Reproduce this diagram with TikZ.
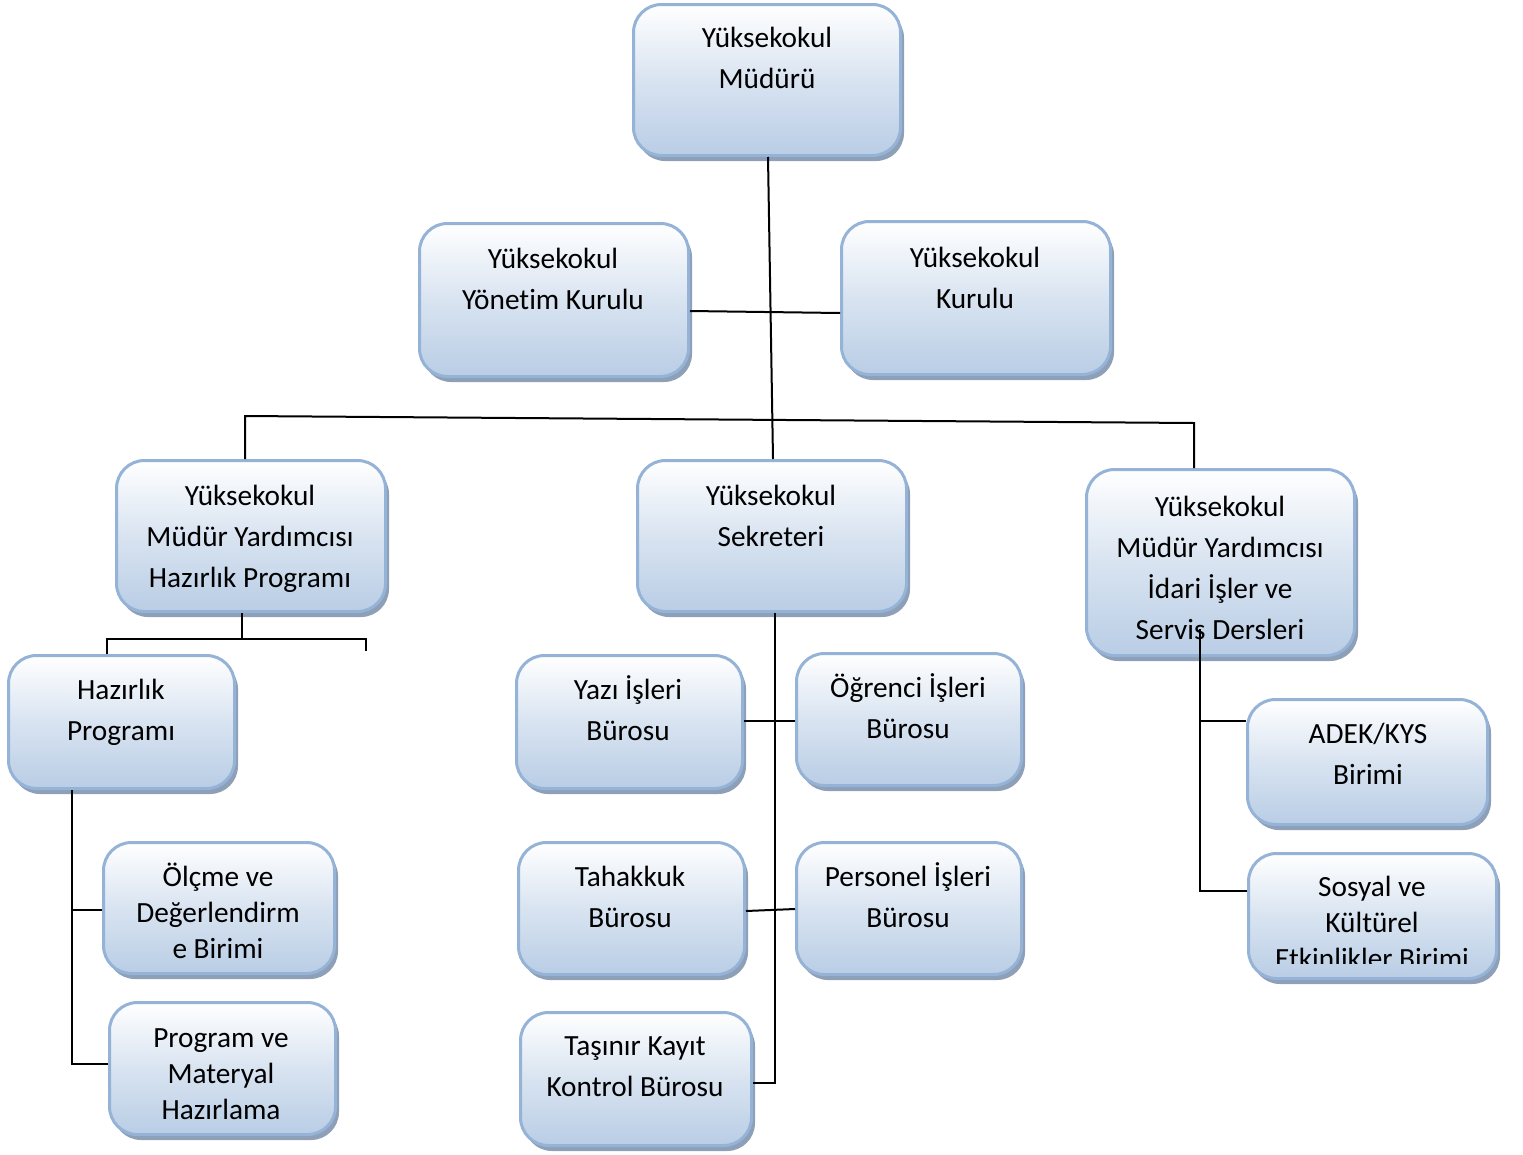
\documentclass[tikz,border=0pt]{standalone}
\usepackage{fontspec}
\setmainfont{Carlito}[Ligatures=NoCommon]
\usetikzlibrary{shadows}
\definecolor{boxborder}{HTML}{95B3D7}
\definecolor{boxbot}{HTML}{B9CDE5}
\definecolor{shadowcol}{HTML}{8E9FB8}
\newcommand\lstr{\rule[-11pt]{0pt}{41pt}}
\newcommand\sstr{\rule[-9pt]{0pt}{36pt}}
\newcommand\orgbox[5]{\node[orgbox, minimum width={#4-#2-3}, minimum height={#5-#3-3}] (#1) at ({(#2+#4)/2},{(#3+#5)/2}) {};}
\tikzset{
  orgbox/.style={draw=boxborder, line width=3pt, rounded corners=28pt,
    top color=white, bottom color=boxbot, middle color=boxbot!55!white,
    drop shadow={shadow xshift=3.5pt, shadow yshift=-5.5pt, fill=shadowcol, opacity=1},
    inner sep=0pt},
  orgtxt/.style={inner sep=0pt, align=center, anchor=north, font=\fontsize{29.3}{41}\selectfont},
  orgtxts/.style={orgtxt, font=\fontsize{29.3}{36}\selectfont},
  conn/.style={draw=black, line width=2pt}
}
\begin{document}
\begin{tikzpicture}[x=1pt,y=-1pt]
\useasboundingbox (0,0) rectangle (1523,1154);
% boxes
\orgbox{mud}{632}{3}{902}{157}
\orgbox{yon}{418}{222}{690}{378}
\orgbox{kur}{840}{220}{1112}{376}
\orgbox{hzy}{115}{459}{387}{613}
\orgbox{sek}{636}{459}{908}{613}
\orgbox{idr}{1085}{468}{1356}{657}
\orgbox{hzp}{7}{654}{236}{790}
\orgbox{olc}{102}{841}{336}{975}
\orgbox{prg}{108}{1001}{337}{1136}
\orgbox{yaz}{515}{654}{744}{790}
\orgbox{ogr}{795}{652}{1023}{787}
\orgbox{tah}{517}{841}{746}{976}
\orgbox{per}{795}{841}{1023}{976}
\orgbox{tas}{519}{1011}{753}{1147}
\orgbox{adk}{1246}{698}{1489}{826}
\orgbox{sos}{1247}{852}{1498}{980}
% texts
\node[orgtxt] (tmud) at (767,17) {\lstr Yüksekokul\\\lstr Müdürü};
\node[orgtxt] (tyon) at (553,238) {\lstr Yüksekokul\\\lstr Yönetim Kurulu};
\node[orgtxt] (tkur) at (975,237) {\lstr Yüksekokul\\\lstr Kurulu};
\node[orgtxt] (thzy) at (250,475) {\lstr Yüksekokul\\\lstr Müdür Yardımcısı\\\lstr Hazırlık Programı};
\node[orgtxt] (tsek) at (771,475) {\lstr Yüksekokul\\\lstr Sekreteri};
\node[orgtxt] (tidr) at (1220,486) {\lstr Yüksekokul\\\lstr Müdür Yardımcısı\\\lstr İdari İşler ve\\\lstr Servis Dersleri};
\node[orgtxt] (thzp) at (121,669) {\lstr Hazırlık\\\lstr Programı};
\node[orgtxts] (tolc) at (218,859) {\sstr Ölçme ve\\\sstr Değerlendirm\\\sstr e Birimi};
\node[orgtxts] (tprg) at (221,1020) {\sstr Program ve\\\sstr Materyal\\\sstr Hazırlama};
\node[orgtxt] (tyaz) at (628,669) {\lstr Yazı İşleri\\\lstr Bürosu};
\node[orgtxt] (togr) at (908,667) {\lstr Öğrenci İşleri\\\lstr Bürosu};
\node[orgtxt] (ttah) at (630,856) {\lstr Tahakkuk\\\lstr Bürosu};
\node[orgtxt] (tper) at (908,856) {\lstr Personel İşleri\\\lstr Bürosu};
\node[orgtxt] (ttas) at (635,1025) {\lstr Taşınır Kayıt\\\lstr Kontrol Bürosu};
\node[orgtxt] (tadk) at (1368,713) {\lstr ADEK/KYS\\\lstr Birimi};
\begin{scope}
\clip (1240,850) rectangle (1505,963);
\node[orgtxts] (tsos) at (1372,869) {\sstr Sosyal ve\\\sstr Kültürel\\\sstr Etkinlikler Birimi};
\end{scope}
% connectors
\coordinate (barR) at (1194,423);
\coordinate (hzyend) at (366,651);
\coordinate (idrj) at (1200,629);
\draw[conn] ([xshift=1pt]mud.south) -- ([xshift=1pt]sek.north);
\draw[conn] ([yshift=-11pt]yon.east) -- ([yshift=-15pt]kur.west);
\draw[conn] ([xshift=-6pt]hzy.north) -- ++(0,-43) -- (barR) -- ([xshift=-26.5pt]idr.north);
\draw[conn] ([xshift=-9pt]hzy.south) -- ++(0,26) coordinate (hzyj);
\draw[conn] ([xshift=-14.5pt]hzp.north) |- (hzyend |- hzyj) -- (hzyend);
\draw[conn] ([xshift=-49.5pt]hzp.south) |- ([yshift=4.5pt]prg.west);
\draw[conn] ([yshift=-2pt]olc.west) -- ++(-31.5,0);
\draw[conn] ([xshift=3pt]sek.south) |- ([yshift=-4pt]tas.east);
\draw[conn] ([yshift=1pt]yaz.east) -- ([yshift=-1.5pt]ogr.west);
\draw[conn] ([yshift=-2.5pt]tah.east) -- ([yshift=-0.5pt]per.west);
\draw[conn] (idrj) |- ([yshift=25pt]sos.west);
\draw[conn] ([yshift=41pt]adk.west) -- ++(-47.5,0);
\end{tikzpicture}
\end{document}
